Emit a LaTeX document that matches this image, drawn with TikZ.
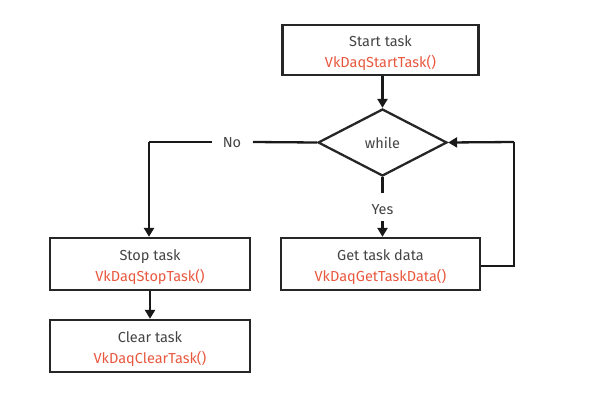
\documentclass[tikz,border=0pt]{standalone}
\usepackage{fontspec}
\setmainfont{Fira Sans}
\usetikzlibrary{arrows.meta,shapes.geometric}
\definecolor{txt}{HTML}{444444}
\definecolor{fn}{HTML}{E8583F}
\newcommand{\topstrut}{\rule{0pt}{16.5pt}}
\tikzset{
  box/.style={draw=black!85, line width=2.3pt, minimum width=196pt, minimum height=50pt, inner sep=0pt, align=center, text=txt, font=\fontsize{14.5}{21}\selectfont},
  dec/.style={draw=black!85, line width=2.3pt, diamond, minimum width=129pt, minimum height=67pt, inner sep=0pt, aspect=1.9, text=txt, font=\fontsize{14.5}{15}\selectfont},
  conn/.style={line width=2.3pt, draw=black!90},
  arr/.style={conn, -{Triangle[width=10pt,length=9pt]}},
  lbl/.style={text=txt, font=\fontsize{14.5}{15}\selectfont, inner sep=0pt}
}
\begin{document}
\begin{tikzpicture}[x=1pt,y=-1pt]
\useasboundingbox (0,0) rectangle (606,408);
\node[box] (start) at (380.5,50) {\topstrut Start task\\\textcolor{fn}{VkDaqStartTask()}};
\node[dec] (while) at (382.5,142.5) {while};
\node[box, minimum width=199pt, minimum height=52pt] (get) at (380.5,264) {\topstrut Get task data\\\textcolor{fn}{VkDaqGetTaskData()}};
\node[box, minimum width=200pt, minimum height=52pt] (stop) at (150,264) {\topstrut Stop task\\\textcolor{fn}{VkDaqStopTask()}};
\node[box, minimum width=200pt, minimum height=52pt] (clear) at (150,346) {\topstrut Clear task\\\textcolor{fn}{VkDaqClearTask()}};
\node[lbl] (yes) at (382.5,210) {Yes};
\node[lbl] (no) at (232,143) {No};
\coordinate (loopA) at (514,266);
\coordinate (loopB) at (514,142);
\coordinate (noL) at (149,142);
\draw[arr] (start.south -| while.north) -- (while.north);
\draw[conn] (while.south) -- ++(0,16);
\draw[arr] (yes.south |- 0,221) -- (get.north -| yes.south);
\draw[conn] (while.west) -- (253,142);
\draw[conn] (212,142) -- (noL);
\draw[arr] (noL) -- (stop.north -| noL);
\draw[conn] (get.east |- loopA) -- (loopA) -- (loopB);
\draw[arr] (loopB) -- (while.east);
\draw[arr] (stop.south) -- (clear.north);
\end{tikzpicture}
\end{document}
